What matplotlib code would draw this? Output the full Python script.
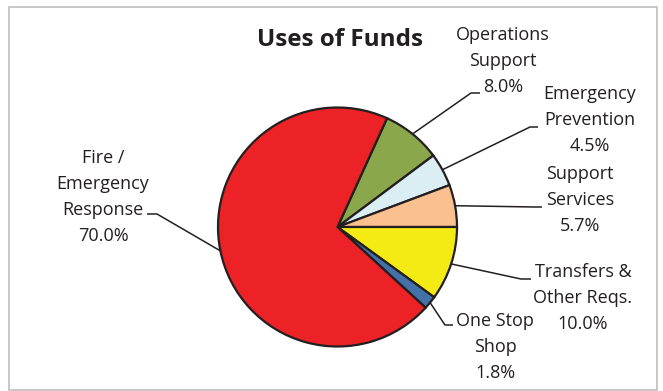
import numpy as np
import matplotlib.pyplot as plt
from matplotlib.patches import Rectangle

# slice data, clockwise from the top
labels = ['Operations\nSupport', 'Emergency\nPrevention', 'Support\nServices',
          'Transfers &\nOther Reqs.', 'One Stop\nShop', 'Fire /\nEmergency\nResponse']
shares = [8.0, 4.5, 5.7, 10.0, 1.8, 70.0]
colors = ['#8AA84B', '#DAEEF3', '#FAC090', '#F5EB14', '#4472A8', '#EC2227']

plt.rcParams['font.family'] = ['Open Sans', 'DejaVu Sans']
ink = '#231F20'

W, H = 663, 391
fig = plt.figure(figsize=(W / 100, H / 100), dpi=100)
ax = fig.add_axes([0, 0, 1, 1])

# outer frame
ax.add_patch(Rectangle((9, H - 390), 648, 383, fill=False, ec='#BFBFBF', lw=1.2))

cx, cy, r = 337.5, H - 227, 119.5
# first three slices sit between the horizontal and the Ops/Fire boundary
start = 360 * sum(shares[:3]) / 100
wedges, _ = ax.pie(shares, colors=colors, startangle=start, counterclock=False,
                   center=(cx, cy), radius=r, frame=True,
                   wedgeprops=dict(edgecolor=ink, linewidth=1.6))
ax.set_xlim(0, W)
ax.set_ylim(0, H)
ax.set_aspect('equal')
ax.axis('off')

# leader elbows and label centres (pixel coords, y down)
elbows = [(471, 93), (530, 127), (535, 207), (521, 279), (445, 325), (157, 214)]
tails = [(480, 93), (538, 127), (542, 207), (531, 279), (453, 325), (147, 214)]
spots = [(503, 61), (590, 120), (580, 200), (583, 298), (495, 347), (103, 197)]

for w, lab, val, e, t, s in zip(wedges, labels, shares, elbows, tails, spots):
    mid = np.deg2rad((w.theta1 + w.theta2) / 2)
    px, py = cx + r * np.cos(mid), cy + r * np.sin(mid)
    ax.plot([px, e[0], t[0]], [py, H - e[1], H - t[1]], color=ink, lw=1.1,
            solid_capstyle='butt')
    ax.text(s[0], H - s[1], f'{lab}\n{val:.1f}%', ha='center', va='center',
            fontsize=13, color=ink, linespacing=1.57)

ax.text(340, H - 40, 'Uses of Funds', ha='center', va='center',
        fontsize=17.5, fontweight='bold', color=ink)

fig.savefig('out.png', dpi=100)
